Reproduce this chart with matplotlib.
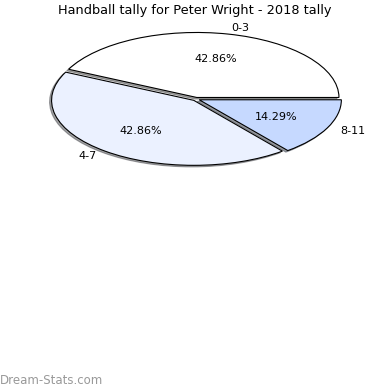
import matplotlib
matplotlib.use("Agg")
import matplotlib.pyplot as plt

etiquetas = ['0-3', '4-7', '8-11']
valores = [3, 3, 1]
colores = ['#ffffff', '#ebf1ff', '#c6d9ff']
separacion = [0.025, 0.025, 0.025]

fig = plt.figure(figsize=(3.9, 3.9), dpi=100)
ax = fig.add_axes([0.065, 0.546, 0.875, 0.40])

ax.pie(valores, labels=etiquetas, colors=colores, explode=separacion,
       autopct='%.2f%%', shadow={'ox': -0.01, 'oy': -0.017}, startangle=0,
       wedgeprops={'edgecolor': 'black', 'linewidth': 0.8},
       textprops={'fontsize': 8})
ax.set_aspect('auto')
ax.set_xlim(-1.2, 1.2)
ax.set_ylim(-1.2, 1.2)

fig.text(0.5, 0.972, 'Handball tally for Peter Wright - 2018 tally',
         ha='center', va='center', fontsize=9.3)
fig.text(0.0, 0.025, 'Dream-Stats.com', ha='left', va='center',
         fontsize=8.5, color='#999999')

fig.savefig('out.png', dpi=100)
